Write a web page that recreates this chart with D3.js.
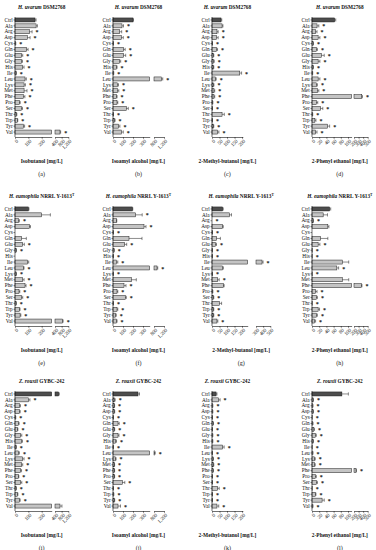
<!DOCTYPE html>
<html>
<head>
<meta charset="utf-8">
<script src="https://cdn.jsdelivr.net/npm/d3@7"></script>
<style>
  body { margin: 0; background: #fff; }
  text { font-family: "Liberation Serif", "DejaVu Serif", serif; fill: #111; }
</style>
</head>
<body>
<div id="chart"></div>
<script>
// amino acids (rows of every panel)
const categories = ['Ctrl','Ala','Arg','Asp','Cys','Gln','Glu','Gly','His','Ile','Leu','Lys','Met','Phe','Pro','Ser','Thr','Trp','Tyr','Val'];
const strains = [
  { species: 'H. uvarum', strain: ' DSM2768', sup: '' },
  { species: 'H. eumophila', strain: ' NRRL Y-1613', sup: 'T' },
  { species: 'Z. rouxii', strain: ' GYBC-242', sup: '' }
];
const compounds = ['Isobutanol [mg/L]', 'Isoamyl alcohol [mg/L]', '2-Methyl-butanol [mg/L]', '2-Phenyl ethanol [mg/L]'];
const letters = ['(a)','(b)','(c)','(d)','(e)','(f)','(g)','(h)','(i)','(j)','(k)','(l)'];

// H. uvarum DSM2768
const isobutanolUv    = [150,158,108,93,5,88,50,50,58,8,75,68,68,62,33,48,12,18,62,700];
const isobutanolUvErr = [8,10,20,20,1,10,8,6,10,2,10,10,22,12,6,8,2,3,10,40];
const isobutanolUvSig = [0,0,1,1,1,1,1,1,1,1,1,1,1,1,1,1,1,1,1,1];
const isoamylUv    = [200,90,67,83,3,107,107,67,33,7,1090,43,43,33,40,133,3,17,57,83];
const isoamylUvErr = [5,15,20,20,1,15,20,10,8,1,60,12,15,8,8,20,1,4,12,20];
const isoamylUvSig = [0,1,1,1,1,1,1,1,1,1,1,1,1,1,1,1,1,1,1,1];
const methylButanolUv    = [60,67,33,31,2,31,9,11,9,185,22,9,13,13,4,2,67,2,9,38];
const methylButanolUvErr = [5,6,8,10,1,6,3,4,3,12,6,4,5,5,2,1,15,1,3,8];
const methylButanolUvSig = [0,0,1,1,1,1,1,1,1,1,1,1,1,1,1,1,1,1,1,1];
const phenylEthanolUv    = [63,14,10,17,3,12,26,17,3,1,17,12,15,370,12,24,1,8,43,10];
const phenylEthanolUvErr = [3,5,4,5,1,3,8,5,1,1,5,3,4,15,4,6,1,3,6,4];
const phenylEthanolUvSig = [0,1,1,1,1,1,1,1,1,1,1,1,1,1,1,1,1,1,1,1];

// H. eumophila NRRL Y-1613T
const isobutanolEu    = [100,200,25,108,0,50,58,8,0,95,62,8,58,75,30,50,8,33,38,860];
const isobutanolEuErr = [5,65,8,8,0,35,12,3,0,8,6,3,10,8,6,8,2,5,6,30];
const isobutanolEuSig = [0,0,1,0,0,0,1,1,0,0,1,1,1,1,1,1,1,1,1,1];
const isoamylEu    = [193,227,33,310,3,160,117,10,3,33,920,3,183,110,40,123,3,40,27,33];
const isoamylEuErr = [5,65,5,20,1,130,20,3,1,15,30,1,50,20,8,10,1,8,6,8];
const isoamylEuSig = [0,1,0,1,1,0,1,1,1,1,1,1,0,1,1,1,1,1,1,1];
const methylButanolEu    = [71,115,0,71,2,31,22,2,2,384,71,2,38,76,4,9,49,9,9,33];
const methylButanolEuErr = [4,15,0,4,1,25,8,1,1,15,5,1,10,5,2,3,15,3,3,6];
const methylButanolEuSig = [0,0,1,0,1,0,1,1,1,1,0,1,1,0,1,1,0,1,1,1];
const phenylEthanolEu    = [49,31,3,44,0,24,17,1,1,84,69,1,84,360,10,12,1,17,12,7];
const phenylEthanolEuErr = [3,12,1,3,0,20,5,0,0,18,5,0,18,15,4,3,0,4,3,3];
const phenylEthanolEuSig = [0,0,1,0,0,0,1,1,1,0,1,1,0,1,1,1,1,1,1,1];

// Z. rouxii GYBC-242
const isobutanolZr    = [620,100,33,33,5,25,18,43,50,8,25,58,50,43,25,43,8,18,33,700];
const isobutanolZrErr = [40,12,8,6,1,6,4,8,6,2,8,10,8,6,4,8,2,4,6,120];
const isobutanolZrSig = [0,1,1,1,1,1,1,1,1,1,1,1,1,1,1,1,1,1,1,0];
const isoamylZr    = [250,17,13,13,3,50,13,50,27,3,830,23,13,13,13,93,3,7,13,50];
const isoamylZrErr = [15,5,3,4,1,12,4,10,8,1,20,8,3,3,3,25,1,2,4,25];
const isoamylZrSig = [0,1,1,1,1,1,1,1,1,1,1,1,1,1,1,1,1,1,1,1];
const methylButanolZr    = [27,44,4,4,2,7,2,4,4,71,2,7,9,7,2,2,38,2,2,33];
const methylButanolZrErr = [6,10,2,2,1,3,1,2,2,10,1,3,3,3,1,1,10,1,1,12];
const methylButanolZrSig = [0,1,1,1,1,1,1,1,1,1,1,1,1,1,1,1,1,1,1,1];
const phenylEthanolZr    = [83,3,2,3,1,2,5,9,3,1,2,7,7,245,9,12,1,9,28,2];
const phenylEthanolZrErr = [18,1,1,1,0,1,2,3,1,0,1,2,2,8,3,3,0,2,6,1];
const phenylEthanolZrSig = [0,1,1,1,1,1,1,1,1,1,1,1,1,1,1,1,1,1,1,1];

// x axis tick labels
const isobutanolTicks = [[0,100,200],[400,800,1200]];
const isoamylTicks = [[0,100,200,300],[800,1200]];
const methylButanolTicks = [[0,50,100,150,200],[300,400,500]];
const phenylEthanolTicks = [[0,20,40,60,80,100],[200,300,400,500]];

// axis layouts (segment domains + pixel ranges from the panel origin)
const axes = {
  isobutanol: { lower: [0,275], lowerR: [0,36.7], upper: [400,1200], upperR: [40,53.3], ticks: isobutanolTicks },
  isoamyl: { lower: [0,367], lowerR: [0,36.7], upper: [800,1200], upperR: [41,51], ticks: isoamylTicks },
  methylButanol: { lower: [0,205], lowerR: [0,30.8], upper: null, ticks: methylButanolTicks },
  methylButanolBreak: { lower: [0,238], lowerR: [0,35.7], upper: [300,500], upperR: [44,58.3], ticks: methylButanolTicks },
  phenylEthanol: { lower: [0,110], lowerR: [0,39.6], upper: [200,500], upperR: [42,55.7], ticks: phenylEthanolTicks }
};

const panels = [
  [isobutanolUv, isobutanolUvErr, isobutanolUvSig, 'isobutanol'],
  [isoamylUv, isoamylUvErr, isoamylUvSig, 'isoamyl'],
  [methylButanolUv, methylButanolUvErr, methylButanolUvSig, 'methylButanol'],
  [phenylEthanolUv, phenylEthanolUvErr, phenylEthanolUvSig, 'phenylEthanol'],
  [isobutanolEu, isobutanolEuErr, isobutanolEuSig, 'isobutanol'],
  [isoamylEu, isoamylEuErr, isoamylEuSig, 'isoamyl'],
  [methylButanolEu, methylButanolEuErr, methylButanolEuSig, 'methylButanolBreak'],
  [phenylEthanolEu, phenylEthanolEuErr, phenylEthanolEuSig, 'phenylEthanol'],
  [isobutanolZr, isobutanolZrErr, isobutanolZrSig, 'isobutanol'],
  [isoamylZr, isoamylZrErr, isoamylZrSig, 'isoamyl'],
  [methylButanolZr, methylButanolZrErr, methylButanolZrSig, 'methylButanol'],
  [phenylEthanolZr, phenylEthanolZrErr, phenylEthanolZrSig, 'phenylEthanol']
];

const colX = [15, 113, 212, 312];
const rowTop = [17, 206, 391];
const plotH = 118;

const svg = d3.select('#chart').append('svg')
  .attr('width', 376)
  .attr('height', 550);

panels.forEach(([values, errs, sig, axKey], i) => {
  const row = Math.floor(i / 4), col = i % 4;
  const ax = axes[axKey];
  const x0 = colX[col], top = rowTop[row];
  const g = svg.append('g').attr('transform', `translate(${x0},${top})`);

  const y = d3.scaleBand().domain(categories).range([0, plotH]).paddingInner(0.32).paddingOuter(0.16);
  const xL = d3.scaleLinear().domain(ax.lower).range(ax.lowerR);
  const xU = ax.upper ? d3.scaleLinear().domain(ax.upper).range(ax.upperR) : null;
  const axisEnd = ax.upper ? ax.upperR[1] : ax.lowerR[1];
  const mid = axisEnd / 2;

  // title
  const s = strains[row];
  const t = g.append('text')
    .attr('x', mid).attr('y', -8)
    .attr('text-anchor', 'middle')
    .attr('font-size', 5.3)
    .attr('font-weight', 'bold');
  t.append('tspan').attr('font-style', 'italic').text(s.species);
  t.append('tspan').text(s.strain);
  if (s.sup) t.append('tspan').attr('font-size', 3.6).attr('dy', -2).text(s.sup);

  const data = categories.map((c, k) => ({ c, v: values[k], e: errs[k], s: sig[k] }));
  const isBroken = d => xU && d.v > ax.lower[1];
  const endX = (v) => (xU && v > ax.lower[1]) ? xU(v) : xL(v);

  // bars (lower piece)
  g.append('g').selectAll('rect')
    .data(data)
    .join('rect')
    .attr('x', 0)
    .attr('y', d => y(d.c))
    .attr('height', y.bandwidth())
    .attr('width', d => isBroken(d) ? ax.lowerR[1] : xL(d.v))
    .attr('fill', d => d.c === 'Ctrl' ? '#4d4d4d' : '#c4c4c4')
    .attr('stroke', '#1a1a1a')
    .attr('stroke-width', 0.5);

  // bars (upper piece after the axis break)
  if (xU) {
    g.append('g').selectAll('rect')
      .data(data.filter(isBroken))
      .join('rect')
      .attr('x', ax.upperR[0])
      .attr('y', d => y(d.c))
      .attr('height', y.bandwidth())
      .attr('width', d => xU(d.v) - ax.upperR[0])
      .attr('fill', d => d.c === 'Ctrl' ? '#4d4d4d' : '#c4c4c4')
      .attr('stroke', '#1a1a1a')
      .attr('stroke-width', 0.5);
  }

  // error bars
  const eb = g.append('g').attr('stroke', '#1a1a1a').attr('stroke-width', 0.5);
  eb.selectAll('line.e')
    .data(data.filter(d => d.e > 0))
    .join('line')
    .attr('class', 'e')
    .attr('x1', d => endX(d.v))
    .attr('x2', d => endX(d.v + d.e))
    .attr('y1', d => y(d.c) + y.bandwidth() / 2)
    .attr('y2', d => y(d.c) + y.bandwidth() / 2);
  eb.selectAll('line.cap')
    .data(data.filter(d => d.e > 0))
    .join('line')
    .attr('class', 'cap')
    .attr('x1', d => endX(d.v + d.e))
    .attr('x2', d => endX(d.v + d.e))
    .attr('y1', d => y(d.c) + 0.4)
    .attr('y2', d => y(d.c) + y.bandwidth() - 0.4);

  // significance stars
  g.append('g').selectAll('text')
    .data(data.filter(d => d.s))
    .join('text')
    .attr('x', d => endX(d.v + d.e) + 3.5)
    .attr('y', d => y(d.c) + y.bandwidth() / 2 + 2.6)
    .attr('font-size', 6)
    .attr('font-weight', 'bold')
    .text('*');

  // y axis
  const yAxis = g.append('g')
    .call(d3.axisLeft(y).tickSize(1.5).tickSizeOuter(0).tickPadding(0.8));
  yAxis.select('.domain').attr('d', `M0,0V${plotH + 2}`).attr('stroke', '#111').attr('stroke-width', 0.6);
  yAxis.selectAll('line').attr('stroke', '#111').attr('stroke-width', 0.5);
  yAxis.selectAll('text').attr('font-size', 5.3).attr('font-family', '"Liberation Serif", serif').attr('fill', '#111');

  // x axis (one or two segments)
  const segs = [[xL, ax.ticks[0]]];
  if (xU) segs.push([xU, ax.ticks[1]]);
  segs.forEach(([sc, tv]) => {
    const xa = g.append('g')
      .attr('transform', `translate(0,${plotH + 2})`)
      .call(d3.axisBottom(sc).tickValues(tv).tickSize(1.8).tickSizeOuter(0).tickPadding(1));
    xa.select('.domain').attr('stroke', '#111').attr('stroke-width', 0.6);
    xa.selectAll('line').attr('stroke', '#111').attr('stroke-width', 0.5);
    xa.selectAll('text')
      .attr('font-size', 5)
      .attr('font-family', '"Liberation Serif", serif')
      .attr('fill', '#111')
      .attr('text-anchor', 'end')
      .attr('transform', 'rotate(-45)')
      .attr('dx', '-0.2em')
      .attr('dy', '0.5em');
  });

  // axis title and panel letter
  g.append('text')
    .attr('x', mid).attr('y', plotH + 27.5)
    .attr('text-anchor', 'middle')
    .attr('font-size', 5.4)
    .attr('font-weight', 'bold')
    .text(compounds[col]);
  g.append('text')
    .attr('x', mid).attr('y', plotH + 40.5)
    .attr('text-anchor', 'middle')
    .attr('font-size', 6)
    .text(letters[i]);
});
</script>
</body>
</html>
